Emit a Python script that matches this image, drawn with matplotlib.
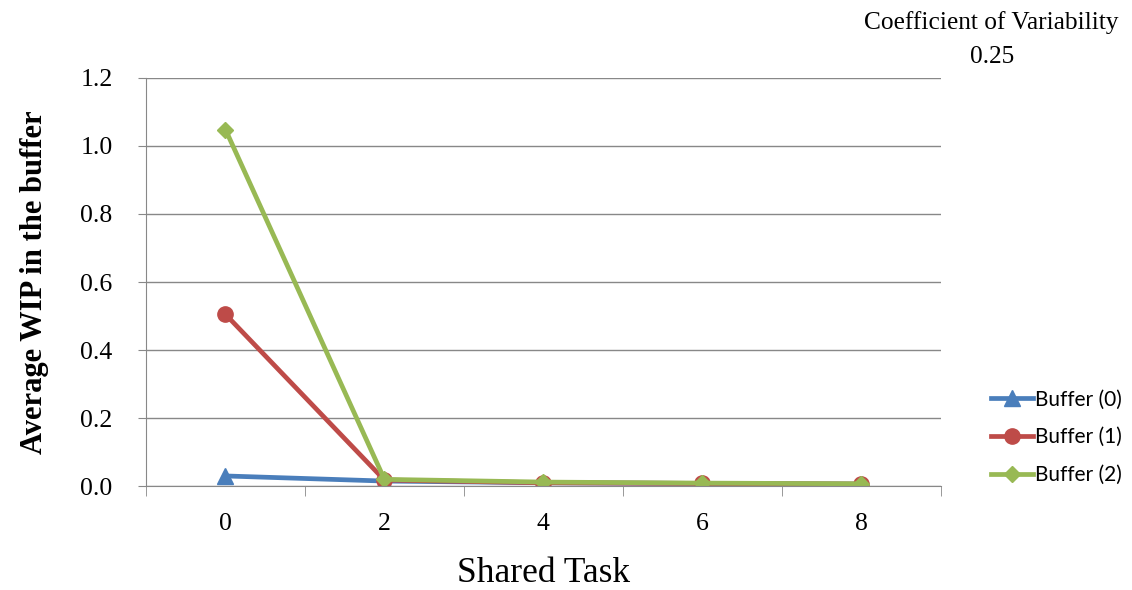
import matplotlib.pyplot as plt
import numpy as np

shared_task = ['0', '2', '4', '6', '8']
buf0 = [0.030, 0.015, 0.010, 0.008, 0.006]
buf1 = [0.505, 0.018, 0.010, 0.008, 0.006]
buf2 = [1.048, 0.020, 0.012, 0.009, 0.007]

fig = plt.figure(figsize=(11.32, 5.9), dpi=100)
ax = fig.add_axes([0.129, 0.176, 0.702, 0.692])

x = np.arange(len(shared_task))
ax.plot(x, buf0, color='#4a7ebb', lw=3.4, marker='^', ms=11, label='Buffer (0)')
ax.plot(x, buf1, color='#be4b48', lw=3.4, marker='o', ms=11, label='Buffer (1)')
ax.plot(x, buf2, color='#98b954', lw=3.4, marker='D', ms=8.5, label='Buffer (2)')

ax.set_xlim(-0.5, len(shared_task) - 0.5)
ax.set_ylim(0, 1.2)
ax.set_yticks(np.arange(0, 1.21, 0.2))
ax.set_yticklabels(['%.1f' % v for v in np.arange(0, 1.21, 0.2)])
ax.yaxis.grid(True, color='#888888', lw=1)
ax.set_axisbelow(True)

ax.set_xticks(x)
ax.set_xticklabels(shared_task)
ax.set_xticks(np.arange(-0.5, len(shared_task)), minor=True)
ax.tick_params(axis='x', which='major', length=0, pad=19)
ax.tick_params(axis='x', which='minor', length=7, color='#888888')
ax.tick_params(axis='y', length=6, color='#888888', pad=18)
for lab in ax.get_xticklabels() + ax.get_yticklabels():
    lab.set_fontfamily('Liberation Serif')
    lab.set_fontsize(18.5)

for s in ['top', 'right']:
    ax.spines[s].set_visible(False)
ax.spines['left'].set_color('#888888')
ax.spines['bottom'].set_color('#888888')

ax.set_xlabel('Shared Task', family='Liberation Serif', fontsize=25.5, labelpad=16)
ax.set_ylabel('Average WIP in the buffer', family='Liberation Serif', fontsize=22,
              fontweight='bold', labelpad=23)

fig.text(0.876, 0.933, 'Coefficient of Variability\n0.25', ha='center', va='center',
         family='Liberation Serif', fontsize=18.3, linespacing=1.65)

ax.legend(loc='center left', bbox_to_anchor=(1.04, 0.12), frameon=False,
          prop={'family': 'Lato', 'size': 15}, handlelength=2.0, handletextpad=0.1,
          labelspacing=0.85)

fig.savefig('out.png', dpi=100)
